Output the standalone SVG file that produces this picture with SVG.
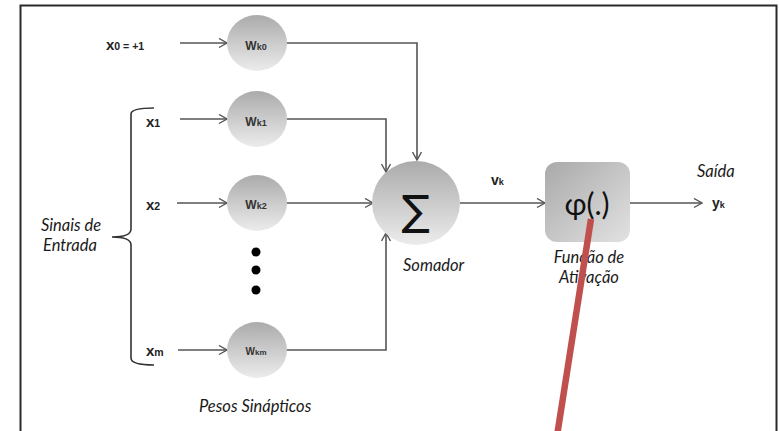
<svg xmlns="http://www.w3.org/2000/svg" width="780" height="431" viewBox="0 0 780 431">
  <defs>
    <linearGradient id="ballGrad" x1="0" y1="0" x2="0" y2="1">
      <stop offset="0" stop-color="#ababab"/>
      <stop offset="1" stop-color="#ececec"/>
    </linearGradient>
    <linearGradient id="boxGrad" x1="0" y1="0" x2="1" y2="1">
      <stop offset="0" stop-color="#a9a9a9"/>
      <stop offset="1" stop-color="#e2e2e2"/>
    </linearGradient>
    <marker id="chev" markerUnits="userSpaceOnUse" markerWidth="12" markerHeight="12" refX="9" refY="5" orient="auto">
      <path d="M1,0.5 L9,5 L1,9.5" fill="none" stroke="#555" stroke-width="1.4"/>
    </marker>
  </defs>
  <style>
    .wire { fill: none; stroke: #555; stroke-width: 1.6; }
    .ball { fill: url(#ballGrad); }
    .wlab { font-family: "Liberation Sans", Arial, sans-serif; font-weight: bold; fill: #333; text-anchor: middle; }
    .xlab { font-family: "Liberation Sans", Arial, sans-serif; font-weight: bold; fill: #222; }
    .cap { font-family: Lato, "Liberation Sans", sans-serif; font-style: italic; font-size: 16.5px; fill: #1a1a1a; }
  </style>

  <!-- outer frame -->
  <rect x="20.5" y="5.5" width="756" height="445" fill="#fff" stroke="#2a2a2a" stroke-width="2"/>

  <!-- connectors -->
  <g id="connectors">
    <line class="wire" x1="180" y1="43" x2="227" y2="43" marker-end="url(#chev)"/>
    <line class="wire" x1="180" y1="119" x2="227" y2="119" marker-end="url(#chev)"/>
    <line class="wire" x1="177" y1="203" x2="227" y2="203" marker-end="url(#chev)"/>
    <line class="wire" x1="178" y1="350" x2="227" y2="350" marker-end="url(#chev)"/>
    <polyline class="wire" points="287,43 417,43 417,160" marker-end="url(#chev)"/>
    <polyline class="wire" points="287,119 386,119 386,172" marker-end="url(#chev)"/>
    <line class="wire" x1="287" y1="203" x2="373" y2="203" marker-end="url(#chev)"/>
    <polyline class="wire" points="286,350 386,350 386,233" marker-end="url(#chev)"/>
    <line class="wire" x1="460" y1="203" x2="545" y2="203" marker-end="url(#chev)"/>
    <line class="wire" x1="630" y1="203" x2="702" y2="203" marker-end="url(#chev)"/>
  </g>

  <!-- input brace -->
  <g id="brace">
    <path d="M154,108 Q131,108 131,114 L131,229 Q131,237 112,237 Q131,237 131,245 L131,358 Q131,365 154,365" fill="none" stroke="#333" stroke-width="1.6"/>
  </g>

  <!-- input labels -->
  <g id="inputs">
    <text class="xlab" x="106" y="50" font-size="15">x<tspan font-size="10.5">0 = +1</tspan></text>
    <text class="xlab" x="146" y="127" font-size="15">x<tspan font-size="10.5">1</tspan></text>
    <text class="xlab" x="146" y="210" font-size="15">x<tspan font-size="10.5">2</tspan></text>
    <text class="xlab" x="146" y="356" font-size="15">x<tspan font-size="10.5">m</tspan></text>
  </g>

  <!-- synaptic weights -->
  <g id="w0">
    <ellipse class="ball" cx="257" cy="43" rx="30" ry="28"/>
    <text class="wlab" x="256" y="50" font-size="12">W<tspan font-size="9">k0</tspan></text>
  </g>
  <g id="w1">
    <ellipse class="ball" cx="257" cy="119" rx="30" ry="28"/>
    <text class="wlab" x="256" y="126" font-size="12">W<tspan font-size="9">k1</tspan></text>
  </g>
  <g id="w2">
    <ellipse class="ball" cx="257" cy="203" rx="30" ry="28"/>
    <text class="wlab" x="256" y="209" font-size="12">W<tspan font-size="9">k2</tspan></text>
  </g>
  <g id="wm">
    <ellipse class="ball" cx="257" cy="350" rx="30" ry="28"/>
    <text class="wlab" x="256" y="355" font-size="10">W<tspan font-size="8">km</tspan></text>
  </g>

  <!-- ellipsis dots -->
  <g id="dots" fill="#000">
    <circle cx="256" cy="252" r="4.5"/>
    <circle cx="256" cy="270" r="4.5"/>
    <circle cx="256" cy="290" r="4.5"/>
  </g>

  <!-- summing junction -->
  <g id="somador">
    <ellipse class="ball" cx="416" cy="203" rx="44" ry="42"/>
    <text x="416" y="225" font-family="DejaVu Sans, sans-serif" font-size="42" font-weight="normal" text-anchor="middle" fill="#111">∑</text>
    <text class="cap" x="403" y="271">Somador</text>
  </g>

  <text class="xlab" x="491" y="185" font-size="14">v<tspan font-size="9">k</tspan></text>

  <!-- activation function -->
  <g id="ativacao">
    <rect x="545" y="162" width="85" height="80" rx="12" fill="url(#boxGrad)"/>
    <text x="587" y="215" font-family="Lato, 'Liberation Sans', sans-serif" font-size="30" text-anchor="middle" fill="#111">φ(.)</text>
    <text class="cap" x="589" y="263" text-anchor="middle">Função de</text>
    <text class="cap" x="589" y="283" text-anchor="middle">Ativação</text>
  </g>

  <!-- output -->
  <g id="saida">
    <text class="cap" x="697" y="177">Saída</text>
    <text class="xlab" x="712" y="208" font-size="14">y<tspan font-size="9">k</tspan></text>
  </g>

  <text class="cap" x="199" y="412">Pesos Sinápticos</text>
  <text class="cap" x="41" y="231">Sinais de</text>
  <text class="cap" x="43" y="251">Entrada</text>

  <!-- red pointer stroke -->
  <line x1="591" y1="219" x2="557" y2="436" stroke="#c0504d" stroke-width="6.5"/>
</svg>
